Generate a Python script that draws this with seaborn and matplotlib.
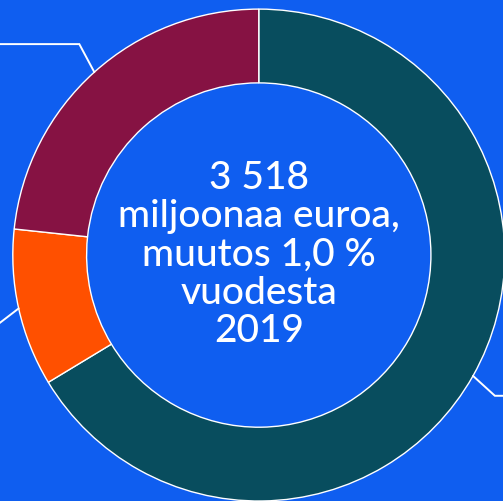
import numpy as np
import matplotlib
matplotlib.use("Agg")
import matplotlib.pyplot as plt
import seaborn as sns

# segment shares of 3 518 million euros (read from the ring, clockwise from top)
segments = ["Segment A", "Segment B", "Segment C"]
values = [2334, 364, 820]
colors = ["#084D5E", "#FF5000", "#861243"]
center_lines = ["3 518", "miljoonaa euroa,", "muutos 1,0 %", "vuodesta", "2019"]
bg = "#0F5EF0"

# bend of each leader line (radius units), then it runs horizontally off the chart
leader_bend = [(0.089, -0.081), (-0.12, -0.092), (-0.061, 0.114)]

sns.set_style("white")
plt.rcParams["font.family"] = ["Lato", "DejaVu Sans"]

fig = plt.figure(figsize=(5.03, 5.01), dpi=100, facecolor=bg)
ax = fig.add_axes([0, 0, 1, 1])
ax.set_facecolor(bg)

wedges, _ = ax.pie(
    values,
    colors=sns.color_palette(colors),
    startangle=90,
    counterclock=False,
    radius=1.0,
    wedgeprops=dict(width=0.30, edgecolor="white", linewidth=1.0),
)

# leader lines from the middle of each wedge
for w, (bx, by) in zip(wedges, leader_bend):
    mid = np.deg2rad((w.theta1 + w.theta2) / 2)
    x0, y0 = np.cos(mid), np.sin(mid)
    x1, y1 = x0 + bx, y0 + by
    x2 = 1.5 if x0 > 0 else -1.5
    ax.plot([x0, x1, x2], [y0, y1, y1], color="white", lw=1.4, solid_joinstyle="miter")

ax.text(0, 0.0, "\n".join(center_lines), ha="center", va="center",
        color="white", fontsize=28, fontweight="medium", linespacing=1.11)

ax.set_xlim(-1.052, 0.993)
ax.set_ylim(-1.0, 1.037)
ax.set_aspect("equal")
ax.axis("off")

fig.savefig("out.png", dpi=100, facecolor=bg)
